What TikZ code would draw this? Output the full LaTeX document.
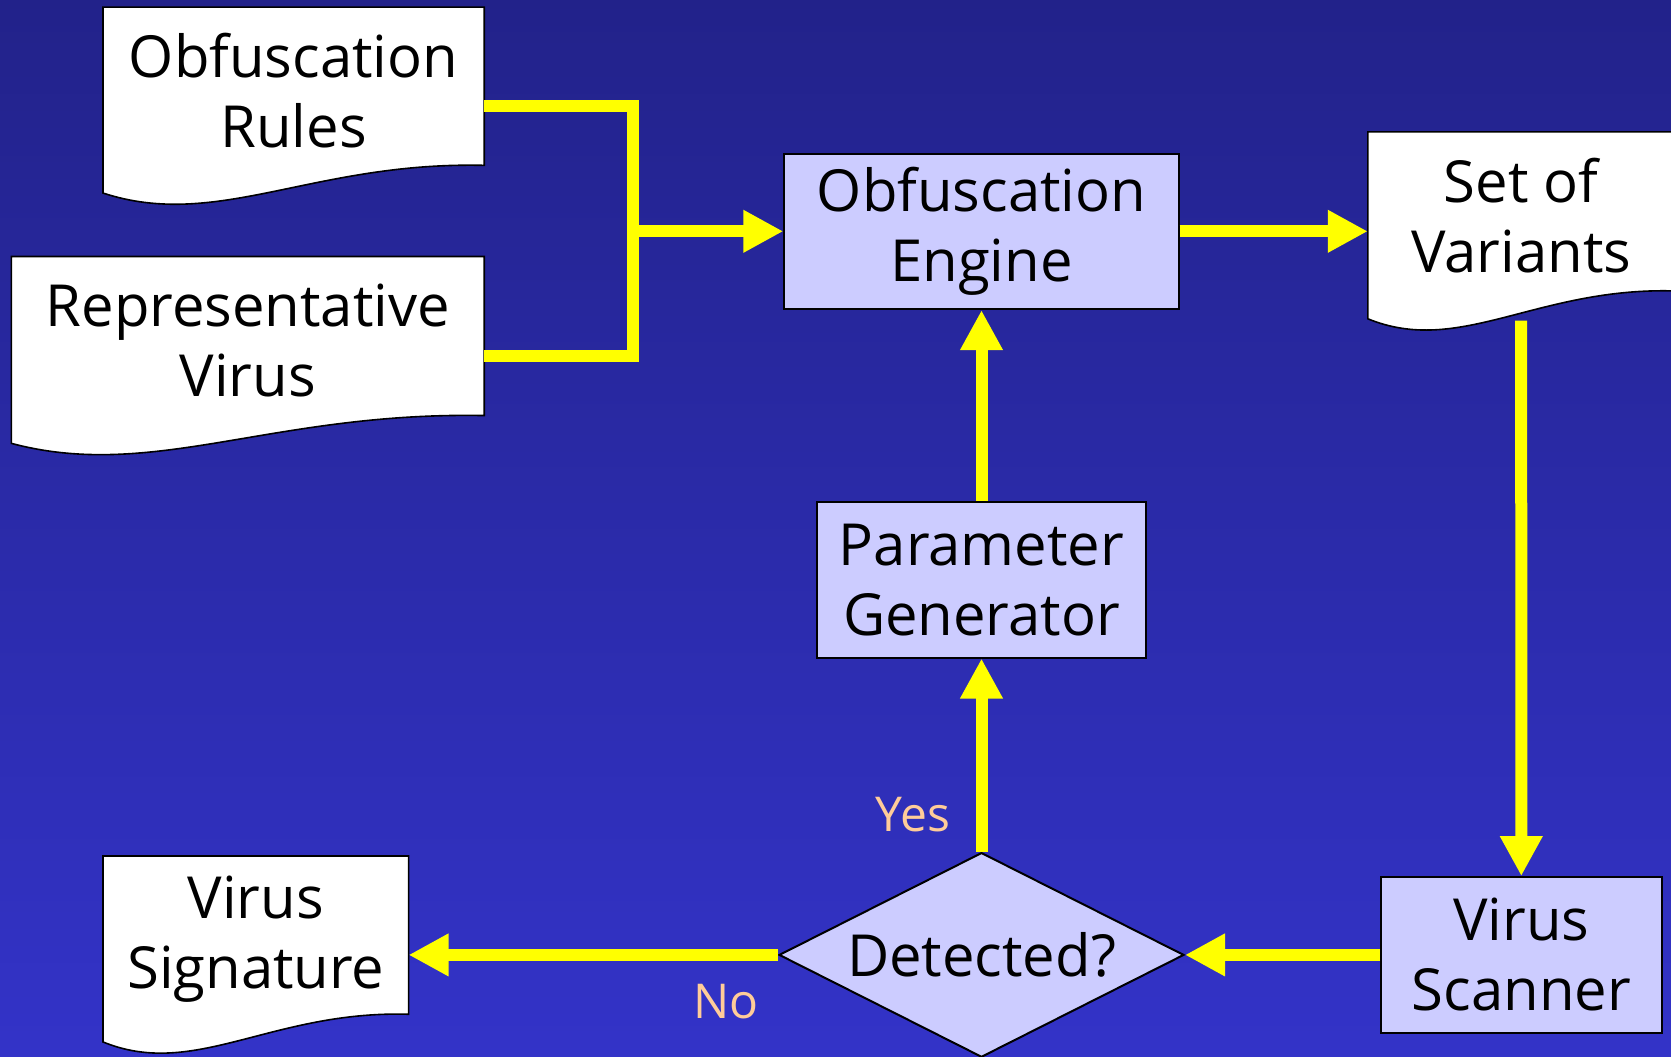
\documentclass[tikz,border=0pt]{standalone}
\usepackage{fontspec}
\setmainfont{Open Sans}
\usetikzlibrary{arrows.meta,calc,shapes.geometric}

\definecolor{bgtop}{RGB}{34,34,138}
\definecolor{bgbottom}{RGB}{51,51,200}
\definecolor{boxfill}{RGB}{204,204,255}
\definecolor{flowyellow}{RGB}{255,255,0}
\definecolor{answercol}{RGB}{255,204,153}

% outline of a flowchart "document": straight top and sides, wavy bottom
\newcommand\docoutline[1]{%
  \draw[docline] let \p1=(#1.north west), \p2=(#1.south east) in
    (\p1) -- (\x2,\y1) -- (\x2,{\y1+0.8*(\y2-\y1)})
    .. controls ({\x1+0.55*(\x2-\x1)},{\y1+0.78*(\y2-\y1)})
            and ({\x1+0.3*(\x2-\x1)},{\y1+1.13*(\y2-\y1)})
    .. (\x1,{\y1+0.94*(\y2-\y1)}) -- cycle;}

\begin{document}
\begin{tikzpicture}[x=0.5pt,y=-0.5pt,
  docframe/.style={draw=none,inner sep=0pt,minimum width=#1},
  docline/.style={draw=black,fill=white,line width=0.8pt},
  doctext/.style={align=center,font=\fontsize{29}{35}\selectfont,inner sep=0pt},
  procbox/.style={draw=black,fill=boxfill,line width=1pt,align=center,
    inner sep=0pt,font=\fontsize{29}{35}\selectfont},
  decision/.style={diamond,draw=black,fill=boxfill,line width=1pt,inner sep=0pt},
  flow/.style={draw=flowyellow,line width=6pt,
    -{Triangle[length=20pt,width=20pt]},color=flowyellow},
  flowline/.style={draw=flowyellow,line width=6pt},
  answer/.style={text=answercol,font=\fontsize{24}{28}\selectfont,inner sep=0pt}]

  % background
  \shade[top color=bgtop,bottom color=bgbottom] (0,0) rectangle (1671,1056);
  \useasboundingbox (0,0) rectangle (1671,1056);

  % documents
  \node[docframe=190.2pt,minimum height=98.5pt] (rules) at (293.6,106) {};
  \node[docframe=236pt,minimum height=99pt] (repr) at (247.8,355.9) {};
  \node[docframe=153pt,minimum height=99pt] (sov) at (1521.2,231.3) {};
  \node[docframe=152.4pt,minimum height=98.5pt] (sig) at (255.8,954.9) {};
  \docoutline{rules}
  \docoutline{repr}
  \docoutline{sov}
  \docoutline{sig}
  \node[doctext] (rulestext) at ($(rules.north)!0.42!(rules.south)$) {Obfuscation\\Rules};
  \node[doctext] (reprtext) at ($(repr.north)!0.42!(repr.south)$) {Representative\\Virus};
  \node[doctext] (sovtext) at ($(sov.north)!0.42!(sov.south)$) {Set of\\Variants};
  \node[doctext] (sigtext) at ($(sig.north)!0.42!(sig.south)$) {Virus\\Signature};

  % processes
  \node[procbox,minimum width=197.2pt,minimum height=77.8pt] (engine) at (981.5,231.3) {Obfuscation\\Engine};
  \node[procbox,minimum width=164.1pt,minimum height=77.8pt] (param) at (981.5,579.7) {Parameter\\Generator};
  \node[procbox,minimum width=140.2pt,minimum height=77.8pt] (scanner) at (1521.3,954.9) {Virus\\Scanner};
  \node[decision,minimum width=202.5pt,minimum height=102.3pt] (detect) at (981.5,954.9) {};
  \node[doctext] (detecttext) at (detect.center) {Detected?};

  % connectors
  \path (engine.west) ++(-150,0) coordinate (fork);
  \draw[flowline] (rules.east) -| (fork) |- (repr.east);
  \draw[flow] (fork) -- (engine.west);
  \draw[flow] (engine.east) -- (sov.west);
  \draw[flow] ($(sov.south)+(0,-10)$) -- (scanner.north);
  \draw[flow] (scanner.west) -- (detect.east);
  \draw[flow] (detect.west) -- (sig.east);
  \draw[flow] (detect.north) -- (param.south);
  \draw[flow] (param.north) -- (engine.south);

  % branch labels
  \node[answer] (yes) at (913,815) {Yes};
  \node[answer] (no) at (726,1002) {No};
\end{tikzpicture}
\end{document}
